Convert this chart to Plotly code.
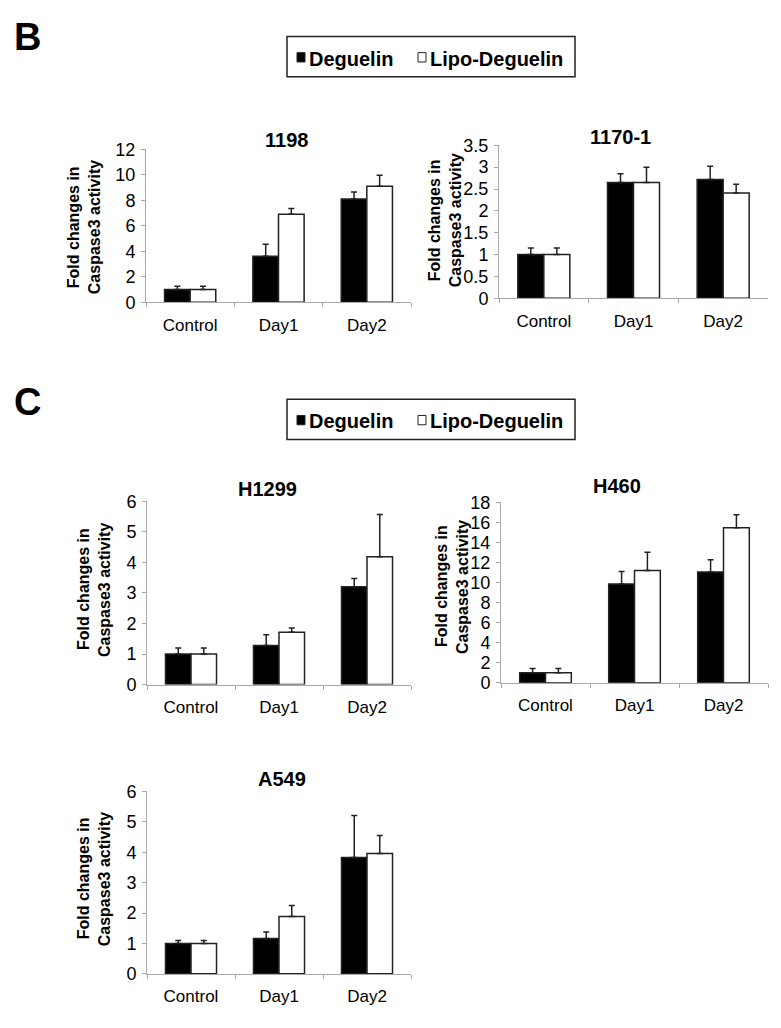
import plotly.graph_objects as go

# ---------------- data ----------------
categories = ["Control", "Day1", "Day2"]
series_names = ["Deguelin", "Lipo-Deguelin"]
panel_titles = ["1198", "1170-1", "H1299", "H460", "A549"]

deg_1198 = [1.0, 3.6, 8.1]
deg_1198_err = [0.25, 0.95, 0.55]
lipo_1198 = [1.0, 6.9, 9.1]
lipo_1198_err = [0.25, 0.45, 0.85]

deg_1170 = [1.0, 2.65, 2.72]
deg_1170_err = [0.15, 0.2, 0.3]
lipo_1170 = [1.0, 2.65, 2.41]
lipo_1170_err = [0.15, 0.35, 0.2]

deg_h1299 = [1.0, 1.28, 3.2]
deg_h1299_err = [0.2, 0.35, 0.27]
lipo_h1299 = [1.0, 1.71, 4.18]
lipo_h1299_err = [0.2, 0.14, 1.39]

deg_h460 = [1.0, 9.85, 11.05]
deg_h460_err = [0.42, 1.25, 1.2]
lipo_h460 = [1.0, 11.2, 15.45]
lipo_h460_err = [0.42, 1.8, 1.3]

deg_a549 = [1.0, 1.16, 3.83]
deg_a549_err = [0.1, 0.22, 1.38]
lipo_a549 = [1.0, 1.89, 3.96]
lipo_a549_err = [0.1, 0.36, 0.59]

y_max = [12, 3.5, 6, 18, 6]
y_dtick = [2, 0.5, 1, 2, 1]

y_label_lines = ["Fold changes in", "Caspase3 activity"]
panel_letters = ["B", "C"]

# ---------------- layout helpers ----------------
W, H = 781, 1028
FONT = "Liberation Sans, Arial, sans-serif"
AXC = "#a8a8a8"

# pixel boxes (left, right, top, bottom)
boxes = [
    (146, 411, 142, 298),
    (499, 768, 138, 294),
    (147, 411, 501, 688),
    (501, 768, 502, 686),
    (147, 411, 797, 983),
]
title_pos = [(286, 133), (620, 130), (267, 488), (617, 485), (282, 784)]
ylab_pos = [(84, 222), (445, 215), (94, 591), (452, 588), (94, 886)]

deg_vals = [deg_1198, deg_1170, deg_h1299, deg_h460, deg_a549]
deg_errs = [deg_1198_err, deg_1170_err, deg_h1299_err, deg_h460_err, deg_a549_err]
lipo_vals = [lipo_1198, lipo_1170, lipo_h1299, lipo_h460, lipo_a549]
lipo_errs = [lipo_1198_err, lipo_1170_err, lipo_h1299_err, lipo_h460_err, lipo_a549_err]


def px(x):
    return x / W


def py(y):
    return 1 - y / H


fig = go.Figure()
layout = dict(
    width=W, height=H,
    margin=dict(l=0, r=0, t=0, b=0),
    paper_bgcolor="white", plot_bgcolor="white",
    showlegend=False,
    barmode="group", bargap=0.42, bargroupgap=0,
    font=dict(family=FONT, color="black", size=17),
)

annotations = []
shapes = []

for i in range(5):
    n = "" if i == 0 else str(i + 1)
    xa, ya = "x" + n, "y" + n
    for vals, errs, name, fill in [
        (deg_vals[i], deg_errs[i], series_names[0], "black"),
        (lipo_vals[i], lipo_errs[i], series_names[1], "white"),
    ]:
        fig.add_trace(go.Bar(
            x=categories, y=vals, name=name, xaxis=xa, yaxis=ya,
            marker=dict(color=fill, line=dict(color="#222", width=1.5)),
            error_y=dict(type="data", array=errs, symmetric=False,
                         arrayminus=[0] * len(errs), color="#222",
                         thickness=1.5, width=3),
        ))
    l, r, t, b = boxes[i]
    layout["xaxis" + n] = dict(
        domain=[px(l), px(r)], anchor=ya, showline=True, linecolor=AXC,
        linewidth=1, ticks="outside", tickson="boundaries", ticklen=4,
        tickcolor=AXC, showgrid=False, zeroline=False,
        tickfont=dict(size=17, family=FONT), ticklabelstandoff=7,
    )
    layout["yaxis" + n] = dict(
        domain=[py(b), py(t)], anchor=xa, range=[0, y_max[i]],
        dtick=y_dtick[i], showline=True, linecolor=AXC, linewidth=1,
        ticks="outside", ticklen=4, tickcolor=AXC, showgrid=False,
        zeroline=False, tickfont=dict(size=18, family=FONT),
        ticklabelstandoff=2,
    )
    tx, ty = title_pos[i]
    annotations.append(dict(
        text="<b>%s</b>" % panel_titles[i], x=px(tx), y=py(ty),
        xref="paper", yref="paper", showarrow=False,
        xanchor="center", yanchor="middle",
        font=dict(size=20, family=FONT, color="black"),
    ))
    lx, ly = ylab_pos[i]
    for j, line in enumerate(y_label_lines):
        annotations.append(dict(
            text="<b>%s</b>" % line, x=px(lx + (j - 0.5) * 21), y=py(ly),
            xref="paper", yref="paper", showarrow=False, textangle=-90,
            xanchor="center", yanchor="middle",
            font=dict(size=16, family=FONT, color="black"),
        ))

# panel letters and legends
for k, off in enumerate([0, 370]):
    annotations.append(dict(
        text="<b>%s</b>" % panel_letters[k], x=px(12), y=py(28 + off + (2 if k else 0)),
        xref="paper", yref="paper", showarrow=False,
        xanchor="left", yanchor="middle",
        font=dict(size=38, family=FONT, color="black"),
    ))
    shapes.append(dict(type="rect", xref="paper", yref="paper",
                       x0=px(287), x1=px(575), y0=py(27 + off), y1=py(68 + off),
                       line=dict(color="#222", width=1.5), fillcolor="white",
                       layer="below"))
    for sx, sfill, tx_, name in [(297, "black", 307, series_names[0]),
                                 (418, "white", 428, series_names[1])]:
        shapes.append(dict(type="rect", xref="paper", yref="paper",
                           x0=px(sx), x1=px(sx + 8), y0=py(43.5 + off), y1=py(53 + off),
                           line=dict(color="#222", width=1), fillcolor=sfill))
        annotations.append(dict(
            text="<b>%s</b>" % name, x=px(tx_), y=py(49.5 + off),
            xref="paper", yref="paper", showarrow=False,
            xanchor="left", yanchor="middle",
            font=dict(size=20, family=FONT, color="black"),
        ))

layout["annotations"] = annotations
layout["shapes"] = shapes
fig.update_layout(**layout)
fig.write_html("out.html", config={"displayModeBar": False},
               post_script="document.body.style.margin='0';document.body.style.overflow='hidden';")
